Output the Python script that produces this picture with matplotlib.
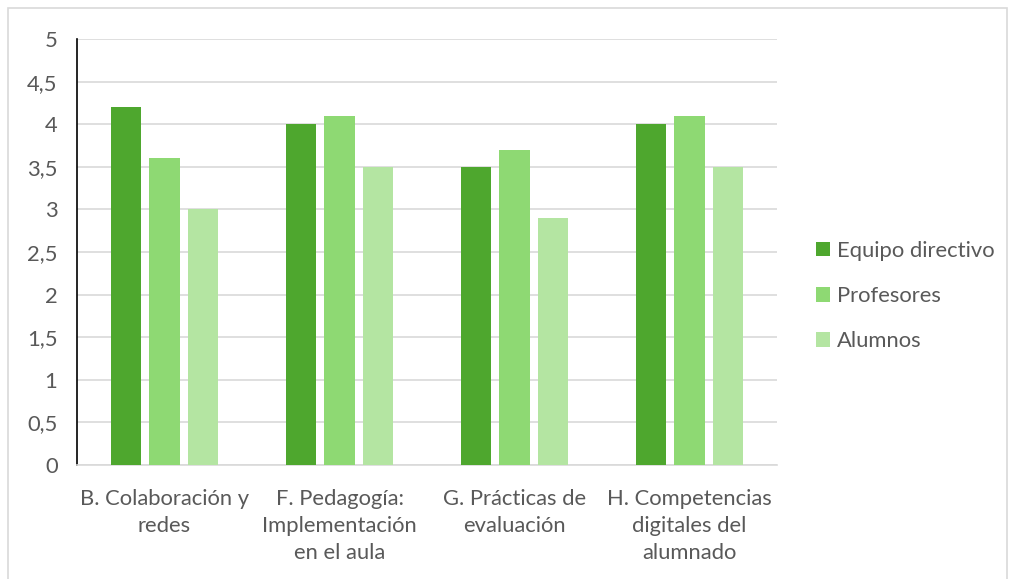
import numpy as np
import matplotlib.pyplot as plt
from matplotlib.patches import Rectangle

categorias = ["B. Colaboración y\nredes", "F. Pedagogía:\nImplementación\nen el aula",
              "G. Prácticas de\nevaluación", "H. Competencias\ndigitales del\nalumnado"]
series = ["Equipo directivo", "Profesores", "Alumnos"]
equipo = [4.2, 4.0, 3.5, 4.0]
profesores = [3.6, 4.1, 3.7, 4.1]
alumnos = [3.0, 3.5, 2.9, 3.5]
valores = [equipo, profesores, alumnos]
colores = ["#4EA72E", "#8ED973", "#B4E5A2"]
yticks = [0, 0.5, 1, 1.5, 2, 2.5, 3, 3.5, 4, 4.5, 5]

plt.rcParams['font.family'] = ['Lato', 'DejaVu Sans']
texto = "#595959"
tam = 15.8

fig = plt.figure(figsize=(10.1, 5.79), dpi=100)
fig.patches.append(Rectangle((8/1010, -0.01), 999/1010, 1 - 8/579 + 0.01,
                             transform=fig.transFigure, fill=False,
                             edgecolor="#D9D9D9", linewidth=1.2))
ax = fig.add_axes([77/1010, 114/579, 700/1010, 426/579])

x = np.arange(len(categorias))
ancho = 0.172
paso = 0.22
for i, (nombre, vals) in enumerate(zip(series, valores)):
    ax.bar(x + (i - 1) * paso, vals, ancho, color=colores[i], label=nombre, zorder=3)

ax.set_xlim(-0.5, len(categorias) - 0.5)
ax.set_ylim(0, 5)
ax.set_yticks(yticks)
ax.set_yticklabels([str(v).replace(".", ",").replace(",0", "") if v != 0 else "0" for v in yticks])
ax.set_xticks(x)
ax.set_xticklabels(categorias, linespacing=1.45)
ax.grid(axis="y", color="#D9D9D9", linewidth=1.2, zorder=0)
for s in ["top", "right"]:
    ax.spines[s].set_visible(False)
ax.spines["left"].set_color("black")
ax.spines["left"].set_linewidth(1.2)
ax.spines["bottom"].set_color("#D9D9D9")
ax.spines["bottom"].set_linewidth(1.2)
ax.tick_params(axis="both", length=0, labelsize=tam, colors=texto)
ax.tick_params(axis="y", pad=14)
ax.tick_params(axis="x", pad=17)

leg = ax.legend(loc="center left", bbox_to_anchor=(796/1010, 1 - 296/579),
                bbox_transform=fig.transFigure, frameon=False, fontsize=tam,
                handlelength=0.65, handleheight=0.65, handletextpad=0.3, labelspacing=1.15)
for t in leg.get_texts():
    t.set_color(texto)

fig.savefig("out.png", dpi=100)
